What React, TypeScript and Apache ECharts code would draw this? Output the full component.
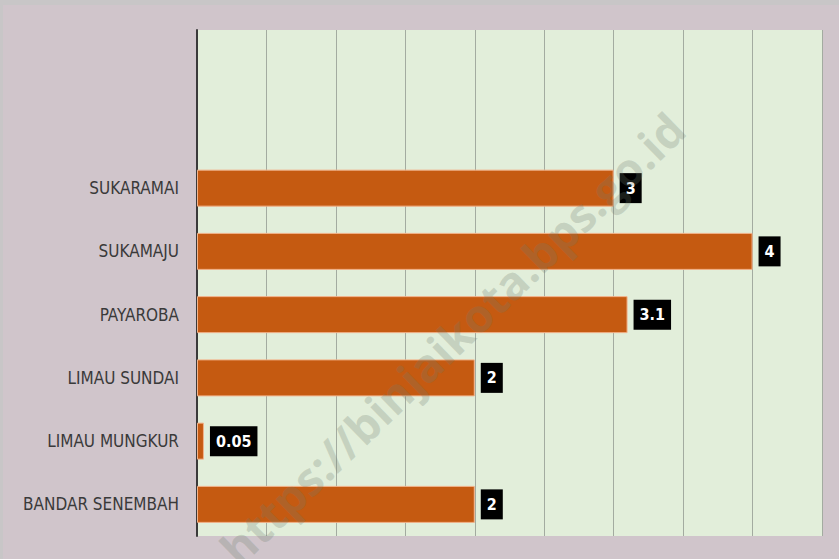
import React, { useEffect, useRef } from "react";
import * as echarts from "echarts";

const categories = [
  "BANDAR SENEMBAH",
  "LIMAU MUNGKUR",
  "LIMAU SUNDAI",
  "PAYAROBA",
  "SUKAMAJU",
  "SUKARAMAI",
  "",
  "",
];
const values: (number | null)[] = [2, 0.05, 2, 3.1, 4, 3, null, null];
const watermark = "https://binjaikota.bps.go.id";

const narrow = "'DejaVu Sans Condensed', 'Liberation Sans Narrow', Roboto, sans-serif";

export default function App() {
  const ref = useRef<HTMLDivElement>(null);
  useEffect(() => {
    if (!ref.current) return;
    const chart = echarts.init(ref.current, null, { renderer: "svg" });
    chart.setOption({
      animation: false,
      backgroundColor: "#d0c5cb",
      grid: {
        left: 197,
        right: 17,
        top: 30,
        bottom: 23,
        show: true,
        backgroundColor: "#e2eeda",
        borderWidth: 0,
      },
      xAxis: {
        type: "value",
        min: 0,
        max: 4.5,
        interval: 0.5,
        axisLabel: { show: false },
        axisLine: { show: false },
        axisTick: { show: false },
        splitLine: { show: true, lineStyle: { color: "#a3aba0", width: 1 } },
      },
      yAxis: {
        type: "category",
        data: categories,
        axisLine: { show: true, lineStyle: { color: "#3a3a3a", width: 2 } },
        axisTick: { show: false },
        axisLabel: {
          margin: 18,
          color: "#3a3a3a",
          fontSize: 17,
          fontFamily: narrow,
        },
      },
      series: [
        {
          type: "bar",
          data: values,
          barWidth: 37,
          itemStyle: { color: "#c55a11", borderColor: "#f2b28a", borderWidth: 1 },
          label: {
            show: true,
            position: "right",
            distance: 6,
            backgroundColor: "#000",
            color: "#fff",
            fontWeight: "bold",
            fontSize: 16,
            lineHeight: 16,
            padding: [7, 6, 7, 6],
            fontFamily: narrow,
          },
        },
      ],
      graphic: [
        {
          type: "rect",
          left: 0,
          top: 0,
          shape: { width: 839, height: 5 },
          style: { fill: "#c8c6c7" },
          silent: true,
        },
        {
          type: "rect",
          left: 0,
          top: 0,
          shape: { width: 3, height: 559 },
          style: { fill: "#c8c6c7" },
          silent: true,
        },
        {
          type: "text",
          x: 452,
          y: 338,
          rotation: 0.77,
          z: 100,
          style: {
            text: watermark,
            fill: "rgba(110,125,110,0.25)",
            font: "bold 46px 'Open Sans', sans-serif",
            align: "center",
            verticalAlign: "middle",
          },
          silent: true,
        },
      ],
    });
    return () => chart.dispose();
  }, []);
  return (
    <div
      ref={ref}
      style={{ position: "fixed", left: 0, top: 0, width: 839, height: 559 }}
    />
  );
}
